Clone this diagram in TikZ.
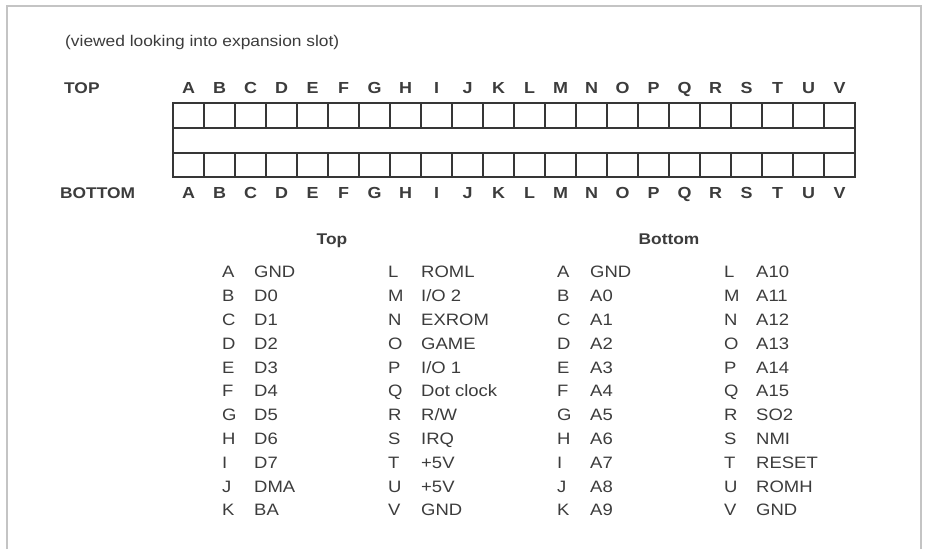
\documentclass[tikz,border=0pt]{standalone}
\usepackage{fontspec}
\setmainfont[FakeStretch=1.12]{Liberation Sans}
\definecolor{ink}{HTML}{3C3C3C}
\definecolor{slotline}{HTML}{363636}
\definecolor{framegray}{HTML}{C4C4C4}
\begin{document}
\begin{tikzpicture}[
    x=1pt, y=-1pt,
    font=\fontsize{16.5}{18}\selectfont,
    every node/.style={text=ink, inner sep=0pt},
    pinletter/.style={font=\fontsize{16}{18}\selectfont\bfseries,
      text height=11.5pt, text depth=0pt},
    sidelbl/.style={anchor=west, font=\fontsize{15.5}{18}\selectfont\bfseries,
      text height=11pt, text depth=0pt},
    headlbl/.style={font=\fontsize{15.5}{18}\selectfont\bfseries,
      text height=11pt, text depth=0pt},
    entry/.style={anchor=west, text height=11.8pt, text depth=0pt},
]
    \useasboundingbox (0,0) rectangle (925,549);

    % Page frame (open at the bottom)
    \draw[framegray, line width=1.5pt] (7,549) -- (7,6) -- (921,6) -- (921,549);

    % Caption
    \node[anchor=west, font=\fontsize{15.5}{18}\selectfont] (caption) at (65,42)
      {(viewed looking into expansion slot)};

    % Side labels
    \node[sidelbl] (toplbl) at (64,88) {TOP};
    \node[sidelbl] (botlbl) at (60,193) {BOTTOM};

    % Slot outline, the two rows of contacts
    \draw[slotline, line width=2.7pt] (173,103) rectangle (855,177);
    \draw[slotline, line width=2.7pt] (173,128) -- (855,128);
    \draw[slotline, line width=2.7pt] (173,153) -- (855,153);
    \foreach \k in {1,...,21}{
      \draw[slotline, line width=2.5pt] (173+31*\k,103) -- (173+31*\k,128);
      \draw[slotline, line width=2.5pt] (173+31*\k,153) -- (173+31*\k,177);
    }

    % Contact letters above and below the slot
    \foreach \l [count=\i from 0] in {A,B,C,D,E,F,G,H,I,J,K,L,M,N,O,P,Q,R,S,T,U,V}{
      \node[pinletter] (t\l) at (188.5+31*\i,88) {\l};
      \node[pinletter] (b\l) at (188.5+31*\i,193) {\l};
    }

    % Table headings
    \node[headlbl] (tophead) at (332,239) {Top};
    \node[headlbl] (bothead) at (669,239) {Bottom};

    % Top side signals
    \foreach \l/\s [count=\i from 0] in {A/GND, B/D0, C/D1, D/D2, E/D3, F/D4,
        G/D5, H/D6, I/D7, J/DMA, K/BA}{
      \node[entry] (tl\l) at (222,272+23.8*\i) {\l};
      \node[entry] (ts\l) at (254,272+23.8*\i) {\s};
    }
    \foreach \l/\s [count=\i from 0] in {L/ROML, M/{I/O 2}, N/EXROM, O/GAME,
        P/{I/O 1}, Q/Dot clock, R/{R/W}, S/IRQ, T/+5V, U/+5V, V/GND}{
      \node[entry] (tl\l) at (388,272+23.8*\i) {\l};
      \node[entry] (ts\l) at (421,272+23.8*\i) {\s};
    }

    % Bottom side signals
    \foreach \l/\s [count=\i from 0] in {A/GND, B/A0, C/A1, D/A2, E/A3, F/A4,
        G/A5, H/A6, I/A7, J/A8, K/A9}{
      \node[entry] (bl\l) at (557,272+23.8*\i) {\l};
      \node[entry] (bs\l) at (590,272+23.8*\i) {\s};
    }
    \foreach \l/\s [count=\i from 0] in {L/A10, M/A11, N/A12, O/A13, P/A14,
        Q/A15, R/SO2, S/NMI, T/RESET, U/ROMH, V/GND}{
      \node[entry] (bl\l) at (724,272+23.8*\i) {\l};
      \node[entry] (bs\l) at (756,272+23.8*\i) {\s};
    }
\end{tikzpicture}
\end{document}
